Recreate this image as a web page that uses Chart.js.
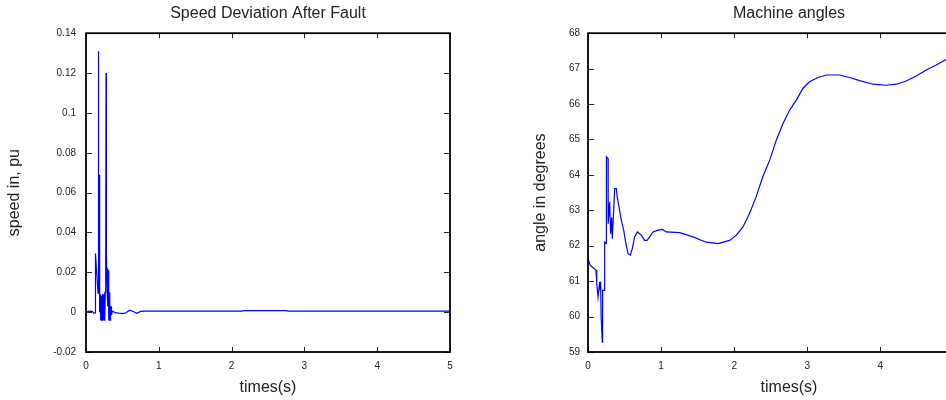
<!DOCTYPE html>
<html>
<head>
<meta charset="utf-8">
<script src="https://cdn.jsdelivr.net/npm/chart.js@4.4.0/dist/chart.umd.min.js"></script>
<style>
html, body { margin: 0; padding: 0; background: #fff; overflow: hidden; }
#wrap { position: relative; width: 946px; height: 400px; overflow: hidden; }
#speedChart { position: absolute; left: 0; top: 0; }
#angleChart { position: absolute; left: 473px; top: 0; }
</style>
</head>
<body>
<div id="wrap">
  <canvas id="speedChart" width="473" height="400"></canvas>
  <canvas id="angleChart" width="527" height="400"></canvas>
</div>
<script>
// speed deviation after fault (pu) vs time (s)
var speedTime = [0, 0.03, 0.06, 0.09, 0.11, 0.125, 0.13, 0.165, 0.166, 0.178, 0.18, 0.183, 0.188, 0.192,
  0.196, 0.2, 0.205, 0.21, 0.215, 0.22, 0.225, 0.23, 0.235, 0.24, 0.245, 0.25, 0.255, 0.26, 0.265, 0.27,
  0.275, 0.28, 0.29, 0.295, 0.3, 0.305, 0.31, 0.315, 0.32, 0.325, 0.33, 0.335, 0.34, 0.345, 0.35, 0.36,
  0.4, 0.45, 0.5, 0.55, 0.6, 0.65, 0.7, 0.75, 0.8, 2.15, 2.17, 2.75, 2.78, 5];
var speedDev = [0, 0.0004, 0.0005, 0.0003, -0.0006, -0.0004, 0.0294, 0.0095, 0.131, 0.069, 0.053, 0.069, 0.008, 0.0,
  0.009, -0.004, 0.008, -0.004, 0.008, -0.004, 0.009, -0.004, 0.009, -0.004, 0.009, -0.004, 0.01, -0.004, 0.01, 0.011,
  0.12, 0.03, 0.011, 0.022, 0.003, 0.021, -0.004, 0.012, -0.004, 0.01, -0.004, 0.003, -0.002, 0.003, -0.0015, 0.0005,
  -0.0002, -0.0005, -0.0007, -0.0003, 0.001, 0.0003, -0.0006, 0.0004, 0.0005, 0.0005, 0.0008, 0.0008, 0.0005, 0.0005];

// machine angle (degrees) vs time (s)
var angleTime = [0, 0.03, 0.11, 0.12, 0.137, 0.16, 0.169, 0.173, 0.18, 0.196, 0.2, 0.22, 0.228, 0.25, 0.252,
  0.274, 0.276, 0.296, 0.31, 0.324, 0.333, 0.365, 0.388, 0.4, 0.424, 0.456, 0.488, 0.515, 0.547, 0.579, 0.606,
  0.638, 0.675, 0.73, 0.775, 0.807, 0.844, 0.889, 0.958, 1.017, 1.07, 1.254, 1.436, 1.619, 1.778, 1.938, 2.03,
  2.12, 2.21, 2.30, 2.39, 2.485, 2.576, 2.668, 2.759, 2.85, 2.94, 3.03, 3.146, 3.26, 3.44, 3.58, 3.716, 3.9,
  4.08, 4.22, 4.355, 4.49, 4.628, 4.765, 4.9, 5.0];
var angleDeg = [61.64, 61.45, 61.31, 60.93, 60.55, 60.98, 60.74, 60.98, 59.99, 59.28, 60.74, 60.74, 62.1, 62.06, 64.51,
  64.46, 62.62, 63.24, 62.34, 62.8, 62.2, 63.61, 63.61, 63.38, 63.1, 62.72, 62.44, 62.1, 61.78, 61.73, 61.92,
  62.25, 62.39, 62.3, 62.15, 62.15, 62.25, 62.39, 62.44, 62.46, 62.39, 62.37, 62.25, 62.1, 62.06, 62.15, 62.3,
  62.53, 62.91, 63.38, 63.94, 64.41, 64.98, 65.45, 65.83, 66.11, 66.44, 66.63, 66.75, 66.82, 66.82, 66.75, 66.66, 66.56,
  66.53, 66.56, 66.65, 66.79, 66.96, 67.1, 67.26, 67.36];

var xTickValues = [0, 1, 2, 3, 4, 5];

Chart.defaults.font.family = "'Liberation Sans', Arial, sans-serif";
Chart.defaults.color = '#222';

function pairs(xs, ys) {
  return xs.map(function (x, i) { return { x: x, y: ys[i] }; });
}

// gnuplot-like box: full frame with inward ticks on all four sides
var frameTicks = {
  id: 'frameTicks',
  afterDatasetsDraw: function (chart) {
    var ctx = chart.ctx, a = chart.chartArea;
    var xs = chart.scales.x, ys = chart.scales.y;
    ctx.save();
    ctx.strokeStyle = '#222';
    ctx.lineWidth = 1;
    ctx.beginPath();
    xs.ticks.forEach(function (t) {
      var px = Math.round(xs.getPixelForValue(t.value)) + 0.5;
      ctx.moveTo(px, a.bottom); ctx.lineTo(px, a.bottom - 5);
      ctx.moveTo(px, a.top); ctx.lineTo(px, a.top + 5);
    });
    ys.ticks.forEach(function (t) {
      var py = Math.round(ys.getPixelForValue(t.value)) + 0.5;
      ctx.moveTo(a.left, py); ctx.lineTo(a.left + 6, py);
      ctx.moveTo(a.right, py); ctx.lineTo(a.right - 6, py);
    });
    ctx.stroke();
    ctx.strokeStyle = '#000';
    ctx.lineWidth = 1.8;
    ctx.strokeRect(a.left, a.top, a.right - a.left, a.bottom - a.top);
    ctx.restore();
  }
};

function keepTicks(values) {
  return function (scale) {
    scale.ticks = values.map(function (v) { return { value: v }; });
  };
}

function makeChart(id, cfg) {
  return new Chart(document.getElementById(id), {
    type: 'line',
    data: {
      datasets: [{
        data: cfg.data,
        borderColor: '#0000ff',
        borderWidth: 1.2,
        pointRadius: 0,
        tension: 0,
        fill: false
      }]
    },
    options: {
      animation: false,
      responsive: false,
      layout: { padding: cfg.padding },
      plugins: {
        legend: { display: false },
        tooltip: { enabled: false },
        title: {
          display: true,
          text: cfg.title,
          fullSize: false,
          color: '#222',
          font: { size: 16, weight: 'normal', lineHeight: 1.2 },
          padding: { top: 4, bottom: 10 }
        }
      },
      scales: {
        x: {
          type: 'linear',
          min: 0,
          max: cfg.xMax,
          afterFit: function (s) { s.height = 48; },
          afterBuildTicks: keepTicks(xTickValues),
          grid: { display: false, drawTicks: false },
          border: { display: false },
          ticks: { padding: 8, font: { size: 10 }, maxRotation: 0 },
          title: { display: true, text: 'times(s)', font: { size: 16 }, padding: { top: 0, bottom: 3 } }
        },
        y: {
          type: 'linear',
          min: cfg.yMin,
          max: cfg.yMax,
          afterFit: function (s) { s.width = cfg.yWidth; },
          grid: { display: false, drawTicks: false },
          border: { display: false },
          ticks: {
            stepSize: cfg.yStep,
            padding: cfg.yPad,
            font: { size: 10 },
            callback: function (v) { return String(parseFloat(v.toFixed(2))); }
          },
          title: { display: true, text: cfg.yTitle, font: { size: 16 }, padding: { top: 5, bottom: 0 } }
        }
      }
    },
    plugins: [frameTicks]
  });
}

var speedChart = makeChart('speedChart', {
  data: pairs(speedTime, speedDev),
  title: 'Speed Deviation After Fault',
  yTitle: 'speed in, pu',
  xMax: 5,
  yMin: -0.02, yMax: 0.14, yStep: 0.02,
  yWidth: 86, yPad: 10,
  padding: { left: 0, right: 23, top: 0, bottom: 0 }
});

var angleChart = makeChart('angleChart', {
  data: pairs(angleTime, angleDeg),
  title: 'Machine angles',
  yTitle: 'angle in degrees',
  xMax: 5.5,
  yMin: 59, yMax: 68, yStep: 1,
  yWidth: 62, yPad: 8,
  padding: { left: 53, right: 10, top: 0, bottom: 0 }
});
</script>
</body>
</html>
